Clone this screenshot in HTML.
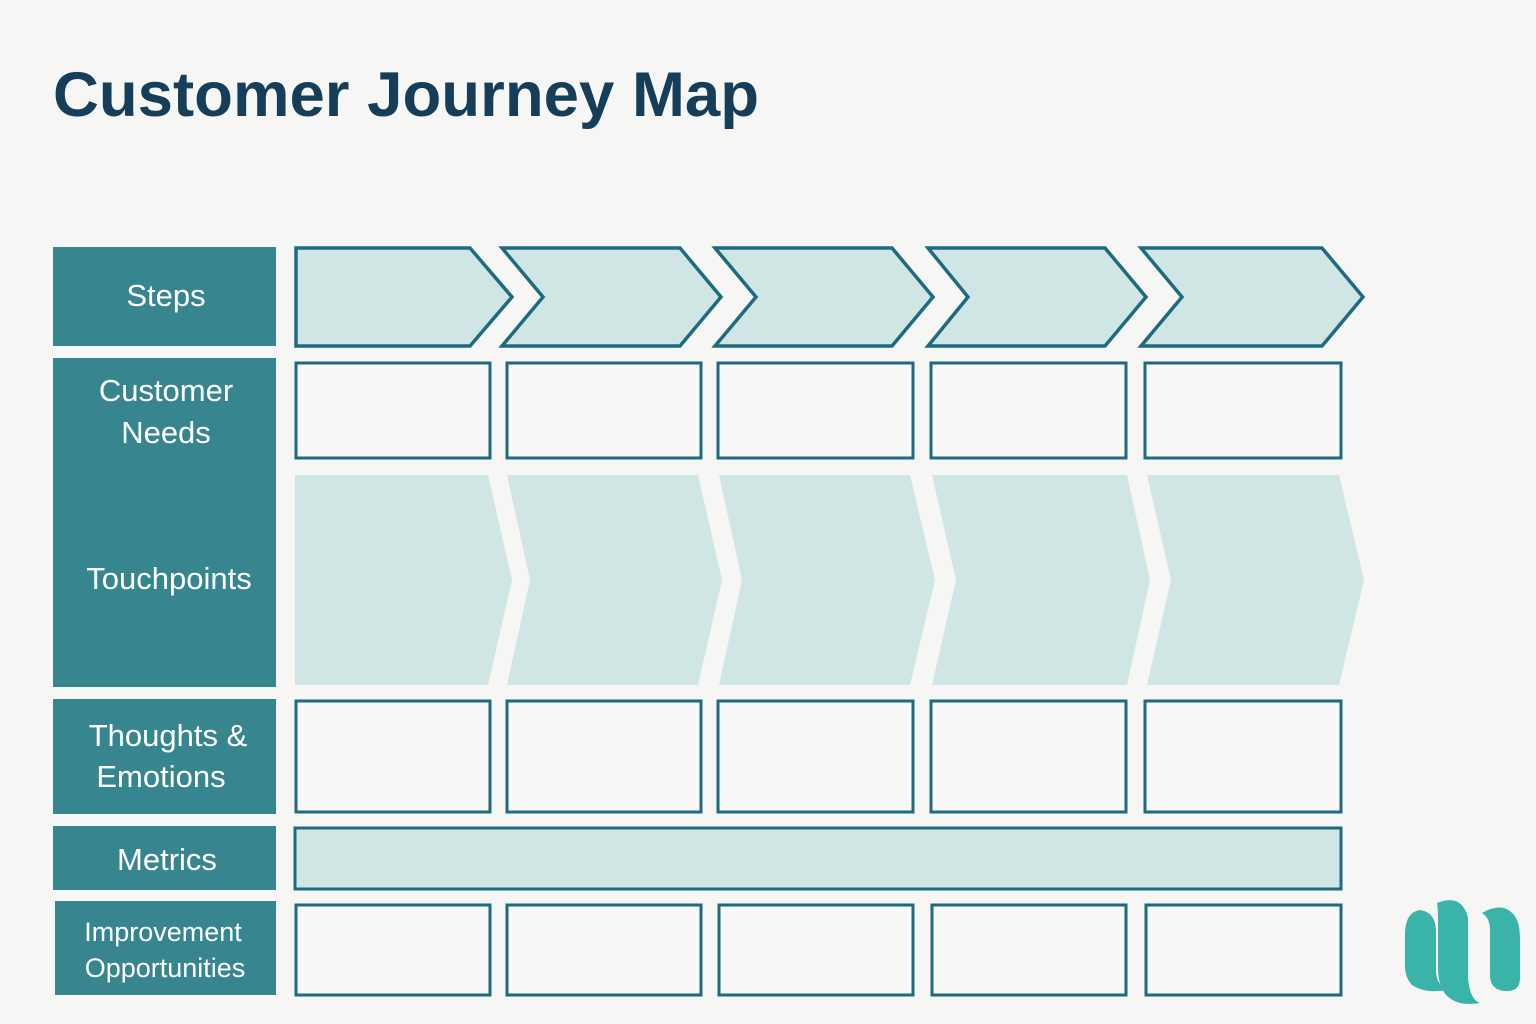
<!DOCTYPE html>
<html><head><meta charset="utf-8"><style>
html,body{margin:0;padding:0;background:#f6f6f5;}
svg{display:block}
text{font-family:"Liberation Sans",sans-serif;}
</style></head><body>
<svg width="1536" height="1024" viewBox="0 0 1536 1024" xmlns="http://www.w3.org/2000/svg">
<rect width="1536" height="1024" fill="#f6f6f5"/>
<text x="53" y="116" font-size="63" font-weight="bold" fill="#163e58" textLength="706" lengthAdjust="spacingAndGlyphs">Customer Journey Map</text>
<g fill="#36858f">
<rect x="53" y="247" width="223" height="99"/>
<rect x="53" y="358" width="223" height="329"/>
<rect x="53" y="699" width="223" height="115"/>
<rect x="53" y="826" width="223" height="64"/>
<rect x="55" y="901" width="221" height="94"/>
</g>
<g fill="#ffffff" font-size="31" text-anchor="middle">
<text x="166" y="306">Steps</text>
<text x="166" y="401">Customer</text>
<text x="166" y="443">Needs</text>
<text x="169" y="589">Touchpoints</text>
<text x="168" y="746">Thoughts &amp;</text>
<text x="161" y="787">Emotions</text>
<text x="167" y="870">Metrics</text>
<text x="163" y="941" font-size="27">Improvement</text>
<text x="165" y="977" font-size="27">Opportunities</text>
</g>
<g fill="#cfe6e5" stroke="#1e6b80" stroke-width="3.5" stroke-linejoin="miter">
<polygon points="296,248 470,248 512,297 470,346 296,346"/>
<polygon points="502,248 680,248 721,297 680,346 502,346 543,297"/>
<polygon points="715,248 892,248 933,297 892,346 715,346 756,297"/>
<polygon points="928,248 1105,248 1146,297 1105,346 928,346 968,297"/>
<polygon points="1141,248 1322,248 1363,297 1322,346 1141,346 1182,297"/>
</g>
<g fill="#cfe6e5">
<polygon points="295,475 488,475 512,580 488,685 295,685"/>
<polygon points="507,475 698,475 722,580 698,685 507,685 530,580"/>
<polygon points="719,475 910,475 935,580 910,685 719,685 742,580"/>
<polygon points="932,475 1127,475 1150,580 1127,685 932,685 956,580"/>
<polygon points="1147,475 1339,475 1364,580 1339,685 1147,685 1171,580"/>
</g>
<g fill="#f8f8f7" stroke="#1e6b80" stroke-width="3">
<rect x="296" y="363" width="194" height="95"/>
<rect x="507" y="363" width="194" height="95"/>
<rect x="718" y="363" width="195" height="95"/>
<rect x="931" y="363" width="195" height="95"/>
<rect x="1145" y="363" width="196" height="95"/>
<rect x="296" y="701" width="194" height="111"/>
<rect x="507" y="701" width="194" height="111"/>
<rect x="718" y="701" width="195" height="111"/>
<rect x="931" y="701" width="195" height="111"/>
<rect x="1145" y="701" width="196" height="111"/>
<rect x="296" y="905" width="194" height="90"/>
<rect x="507" y="905" width="194" height="90"/>
<rect x="719" y="905" width="194" height="90"/>
<rect x="932" y="905" width="194" height="90"/>
<rect x="1146" y="905" width="195" height="90"/>
</g>
<rect x="295" y="828" width="1046" height="61" fill="#cfe6e5" stroke="#1e6b80" stroke-width="3"/>
<g fill="#3ab3a8">
<path d="M1405,935 Q1405,912 1420,910 Q1435,912 1436,930 L1436,970 Q1436,985 1448,990 Q1425,994 1412,985 Q1405,978 1405,965 Z"/>
<path d="M1437,903 Q1462,893 1468,918 L1468,978 Q1470,1000 1480,1003 Q1458,1007 1446,995 Q1438,985 1438,968 L1438,920 Q1438,908 1437,903 Z"/>
<path d="M1482,913 Q1505,900 1516,918 Q1520,925 1520,940 L1520,978 Q1520,992 1505,991 Q1490,990 1490,975 L1490,930 Q1490,918 1482,913 Z"/>
</g>
</svg>
</body></html>
